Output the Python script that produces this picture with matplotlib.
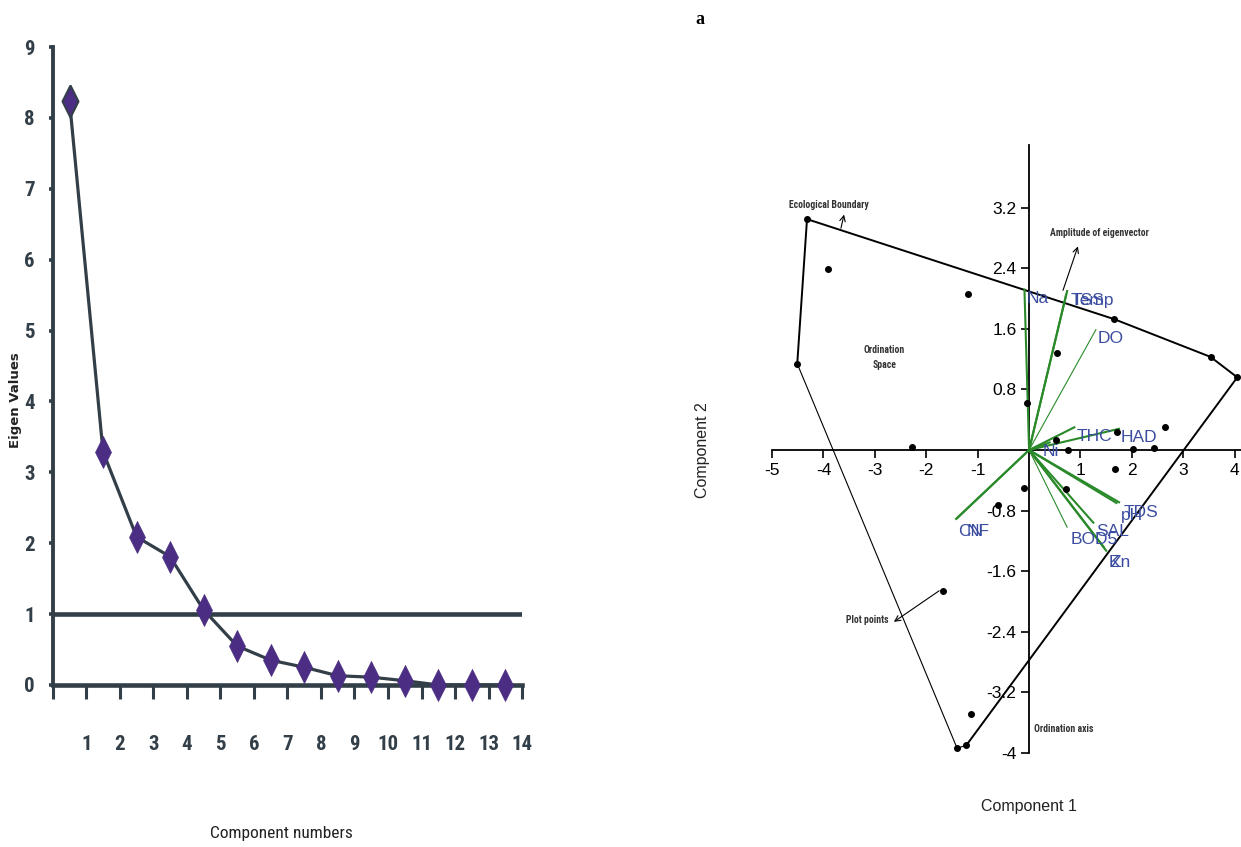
import matplotlib
matplotlib.use("Agg")
import matplotlib.pyplot as plt
from matplotlib import font_manager
import numpy as np

plt.rcParams["axes.unicode_minus"] = False

# scree plot data
components = [1, 2, 3, 4, 5, 6, 7, 8, 9, 10, 11, 12, 13, 14]
eigen_values = [8.24, 3.29, 2.09, 1.81, 1.06, 0.55, 0.35, 0.25, 0.13, 0.11, 0.06, 0.0, 0.0, 0.0]

# biplot data: plot points (component 1, component 2)
site_x = [-4.32, -4.51, -3.91, -1.19, 0.54, -0.04, -2.28, 0.53, 0.76, 1.71, 2.02, 2.43,
          2.65, 1.67, 0.72, -0.10, -0.60, -1.67, -1.13, -1.40, -1.22, 4.05, 3.53, 1.65]
site_y = [3.05, 1.14, 2.39, 2.06, 1.28, 0.62, 0.04, 0.13, 0.00, 0.24, 0.01, 0.03,
          0.30, -0.25, -0.52, -0.50, -0.73, -1.86, -3.49, -3.94, -3.90, 0.96, 1.23, 1.73]

# ecological boundary (convex hull vertices, in order)
hull_x = [-4.32, -4.51, -1.40, -1.22, 4.05, 3.53, 1.65, -4.32]
hull_y = [3.05, 1.14, -3.94, -3.90, 0.96, 1.23, 1.73, 3.05]

# eigenvector loadings
var_names = ["Na", "TSS", "Temp", "DO", "THC", "HAD", "Ni", "CN", "NF",
             "TDS", "pH", "SAL", "BOD5", "Zn", "K"]
load_x = [-0.09, 0.74, 0.72, 1.30, 0.88, 1.75, 0.40, -1.42, -1.40,
          1.75, 1.70, 1.25, 0.74, 1.50, 1.45]
load_y = [2.12, 2.10, 2.05, 1.59, 0.30, 0.28, 0.10, -0.91, -0.90,
          -0.69, -0.70, -0.96, -1.02, -1.33, -1.28]
thin_vectors = ["DO", "BOD5"]

# label anchor points (left, centre) in data units
label_pos = {
    "Na": (-0.05, 2.00), "TSS": (0.80, 1.98), "Temp": (0.82, 1.97), "DO": (1.34, 1.47),
    "THC": (0.93, 0.18), "HAD": (1.79, 0.16), "Ni": (0.27, -0.02), "CN": (-1.38, -1.07),
    "NF": (-1.22, -1.07), "TDS": (1.83, -0.83), "pH": (1.78, -0.86), "SAL": (1.30, -1.07),
    "BOD5": (0.80, -1.18), "Zn": (1.58, -1.49), "K": (1.54, -1.49),
}

dark = "#333f48"
purple = "#4b2e83"
green = "#2a8a2a"
blue = "#3b4da0"
tall_diamond = [(0, 1), (0.5, 0), (0, -1), (-0.5, 0), (0, 1)]


def pick_condensed():
    names = {f.name for f in font_manager.fontManager.ttflist}
    for cand in ["Liberation Sans Narrow", "Roboto Condensed", "DejaVu Sans Condensed",
                 "Open Sans Condensed", "Noto Sans Condensed"]:
        if cand in names:
            return cand, None
    for f in font_manager.fontManager.ttflist:
        if "ondensed" in str(f.stretch) or (isinstance(f.stretch, int) and f.stretch < 500):
            return f.name, f.stretch
    return None, None


cond_name, cond_stretch = pick_condensed()
if cond_name:
    cond = dict(family=[cond_name, "DejaVu Sans"])
    if cond_stretch is not None:
        cond["stretch"] = cond_stretch
    shrink = 1.0
else:
    cond = dict(family=["Liberation Sans", "DejaVu Sans"])
    shrink = 0.8

fig = plt.figure(figsize=(12.41, 8.47), dpi=100)

# ---------- left: scree plot ----------
ax1 = fig.add_axes([0.0425, 0.1913, 0.3782, 0.7532])
xpos = np.array(components) - 0.5
ax1.axhline(1, xmin=0, xmax=1, color=dark, lw=3.3, zorder=1)
ax1.plot(xpos, eigen_values, color=dark, lw=2.3, zorder=2)
ax1.plot(xpos, eigen_values, ls="none", marker=tall_diamond, ms=23, color=purple,
         mec=purple, mew=0.5, clip_on=False, zorder=3)
ax1.plot(xpos[:1], eigen_values[:1], ls="none", marker=tall_diamond, ms=23,
         color=purple, mec=dark, mew=1.5, clip_on=False, zorder=4)
ax1.set_xlim(0, 14)
ax1.set_ylim(0, 9)
ax1.spines["top"].set_visible(False)
ax1.spines["right"].set_visible(False)
ax1.spines["left"].set_color(dark)
ax1.spines["left"].set_linewidth(2.8)
ax1.spines["bottom"].set_color(dark)
ax1.spines["bottom"].set_linewidth(3.3)
ax1.set_xticks(range(0, 15))
ax1.set_xticklabels([""] + [str(c) for c in components])
ax1.set_yticks(range(0, 10))
ax1.tick_params(axis="x", length=10, width=2.2, color=dark, pad=26,
                labelsize=15 * shrink, labelcolor=dark)
ax1.tick_params(axis="y", length=3, width=2.6, color=dark, pad=10,
                labelsize=15 * shrink, labelcolor=dark)
for lab in ax1.get_xticklabels() + ax1.get_yticklabels():
    lab.set(**cond)
    lab.set_fontweight("bold")
fig.text(16 / 1241, 1 - 400 / 847, "Eigen Values", rotation=90, ha="center", va="center",
         fontsize=9.5, fontweight="bold", family="DejaVu Sans", color="#222222")
fig.text(281 / 1241, 1 - 833 / 847, "Component numbers", ha="center", va="center",
         fontsize=12.5 * shrink, color="#222222", **cond)

# ---------- right: biplot ----------
ax2 = fig.add_axes([0.6097, 0.0844, 0.3902, 0.7686])
ax2.set_xlim(-5.3, 4.12)
ax2.set_ylim(-4.3, 4.3)
for side in ["top", "right"]:
    ax2.spines[side].set_visible(False)
ax2.spines["left"].set_position(("data", 0))
ax2.spines["bottom"].set_position(("data", 0))
ax2.spines["left"].set_bounds(-4, 4.03)
ax2.spines["bottom"].set_bounds(-5, 4.12)
ax2.spines["left"].set_linewidth(1.3)
ax2.spines["bottom"].set_linewidth(1.3)
ax2.set_xticks([-5, -4, -3, -2, -1, 1, 2, 3, 4])
ax2.set_yticks([-4, -3.2, -2.4, -1.6, -0.8, 0.8, 1.6, 2.4, 3.2])
ax2.set_yticklabels(["-4", "-3.2", "-2.4", "-1.6", "-0.8", "0.8", "1.6", "2.4", "3.2"])
ax2.tick_params(length=6, width=1.2, labelsize=12.5, pad=3)
for lab in ax2.get_xticklabels() + ax2.get_yticklabels():
    lab.set_family("Liberation Sans")

# boundary: thick segments plus the thin lower-left edge
ax2.plot(hull_x[3:], hull_y[3:], color="black", lw=1.4, zorder=2)
ax2.plot(hull_x[:2], hull_y[:2], color="black", lw=1.4, zorder=2)
ax2.plot(hull_x[1:4], hull_y[1:4], color="black", lw=0.8, zorder=2)

for name, vx, vy in zip(var_names, load_x, load_y):
    ax2.plot([0, vx], [0, vy], color=green,
             lw=0.8 if name in thin_vectors else 1.5, zorder=3)
    lx, ly = label_pos[name]
    ax2.text(lx, ly, name, color=blue, fontsize=12.5, family="Liberation Sans",
             ha="left", va="center", zorder=4)

ax2.plot(site_x, site_y, ls="none", marker="o", ms=4, color="black", zorder=5)

note = dict(fontsize=7 * shrink, fontweight="bold", color="#333333",
            ha="center", va="center", **cond)
arrow = dict(arrowstyle="->", lw=0.8, color="black", shrinkA=0, shrinkB=0)
ax2.annotate("", xy=(-3.60, 3.11), xytext=(-3.66, 2.93), arrowprops=arrow)
ax2.text(-3.90, 3.24, "Ecological Boundary", **note)
ax2.annotate("", xy=(0.95, 2.69), xytext=(0.66, 2.11), arrowprops=arrow)
ax2.text(1.36, 2.87, "Amplitude of eigenvector", **note)
ax2.text(-2.82, 1.22, "Ordination\nSpace", linespacing=1.6, **note)
ax2.annotate("", xy=(-2.63, -2.27), xytext=(-1.75, -1.86), arrowprops=arrow)
ax2.text(-3.14, -2.25, "Plot points", **note)
ax2.text(0.68, -3.69, "Ordination axis", **note)

fig.text(1029 / 1241, 1 - 806 / 847, "Component 1", ha="center", va="center",
         fontsize=11.5, family="Liberation Sans", color="#222222")
fig.text(702 / 1241, 1 - 450 / 847, "Component 2", ha="center", va="center",
         rotation=90, fontsize=11.5, family="Liberation Sans", color="#222222")
fig.text(700 / 1241, 1 - 20 / 847, "a", ha="center", va="center",
         fontsize=13, family="Liberation Serif", fontweight="bold")

fig.savefig("out.png", dpi=100)
